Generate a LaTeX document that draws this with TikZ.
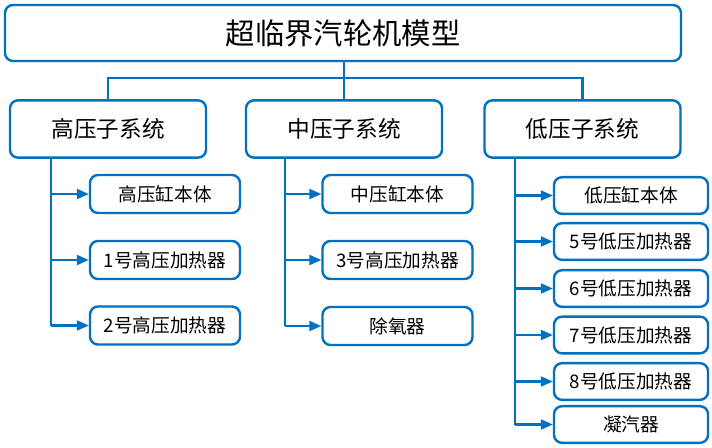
\documentclass[tikz,border=0pt]{standalone}
\usepackage{fontspec}
\newfontfamily\cjk{Noto Sans CJK SC}
\usetikzlibrary{arrows.meta,positioning}
\definecolor{lineblue}{RGB}{0,112,192}

\begin{document}
\begin{tikzpicture}[
  x=0.75pt, y=-0.75pt,
  font=\cjk,
  >={Triangle[length=9pt,width=7.5pt]},
  box/.style={
    draw=lineblue,
    line width=1.8pt,
    rounded corners=6pt,
    fill=white,
    inner sep=0pt,
    align=center
  },
  rootbox/.style={box, minimum width=507pt, minimum height=42pt, font=\cjk\fontsize{22}{26}\selectfont},
  sys/.style={box, minimum width=147pt, minimum height=43pt, font=\cjk\fontsize{17}{20}\selectfont},
  leaf/.style={box, minimum width=112.5pt, minimum height=28.5pt, font=\cjk\fontsize{14}{17}\selectfont},
  lpleaf/.style={leaf, minimum width=115.5pt, minimum height=27.5pt},
  link/.style={draw=lineblue, line width=1.6pt},
  arrow/.style={link, ->}
]
  \useasboundingbox (0,0) rectangle (712,447);

  % top level
  \node[rootbox] (root) at (343,33) {超临界汽轮机模型};
  \coordinate (bus) at (344,78);

  % subsystems
  \node[sys] (hp) at (108,129) {高压子系统};
  \node[sys] (mp) at (344,129) {中压子系统};
  \node[sys] (lp) at (582.5,129) {低压子系统};

  \draw[link] (root.south -| bus) -- (bus);
  \draw[link] (hp.north) |- (bus) -| (lp.north);
  \draw[link] (bus) -- (mp.north);

  % high pressure parts
  \node[leaf] (hp1) at (165,194) {高压缸本体};
  \node[leaf] (hp2) at (165,260) {1号高压加热器};
  \node[leaf] (hp3) at (165,325.5) {2号高压加热器};

  % intermediate pressure parts
  \node[leaf] (mp1) at (397.5,194) {中压缸本体};
  \node[leaf] (mp2) at (397.5,260) {3号高压加热器};
  \node[leaf] (mp3) at (397.5,326) {除氧器};

  % low pressure parts
  \node[lpleaf] (lp1) at (631,195.5) {低压缸本体};
  \node[lpleaf] (lp2) at (631,241.5) {5号低压加热器};
  \node[lpleaf] (lp3) at (631,288.5) {6号低压加热器};
  \node[lpleaf] (lp4) at (631,335) {7号低压加热器};
  \node[lpleaf] (lp5) at (631,381.5) {8号低压加热器};
  \node[lpleaf] (lp6) at (631,424.5) {凝汽器};

  \coordinate (hptrunk) at (51,158);
  \coordinate (mptrunk) at (285,158);
  \coordinate (lptrunk) at (515,158);

  \draw[link] (hptrunk) -- (hptrunk |- hp3.west);
  \draw[link] (mptrunk) -- (mptrunk |- mp3.west);
  \draw[link] (lptrunk) -- (lptrunk |- lp6.west);

  \foreach \i in {1,2,3} {
    \draw[arrow] (hptrunk |- hp\i.west) -- (hp\i.west);
    \draw[arrow] (mptrunk |- mp\i.west) -- (mp\i.west);
  }
  \foreach \i in {1,...,6}
    \draw[arrow] (lptrunk |- lp\i.west) -- (lp\i.west);
\end{tikzpicture}
\end{document}
